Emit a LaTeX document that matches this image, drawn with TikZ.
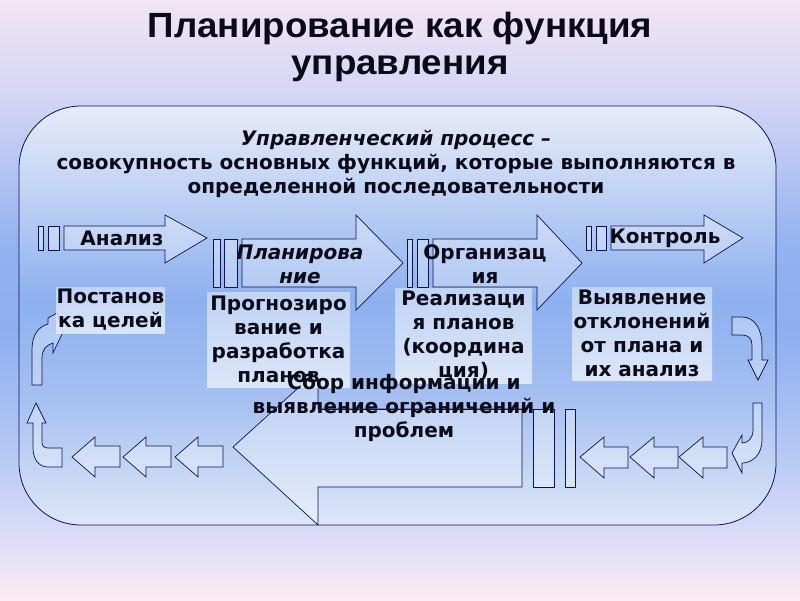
\documentclass[tikz,border=0pt]{standalone}
\usepackage{fontspec}
\setmainfont{DejaVu Sans}
\newfontfamily\headfont[FakeStretch=1.05]{Liberation Sans}
\usetikzlibrary{positioning}

\definecolor{navy}{HTML}{0B1350}
\definecolor{ink}{HTML}{0A0A18}
\definecolor{bgA}{HTML}{F3E5F3}
\definecolor{bgB}{HTML}{D2D5F5}
\definecolor{bgC}{HTML}{93B1F0}
\definecolor{bgD}{HTML}{8FAEF0}
\definecolor{bgE}{HTML}{B4C8F4}
\definecolor{bgF}{HTML}{D9DBF7}
\definecolor{bgG}{HTML}{FCEBF3}
\definecolor{frA}{HTML}{E6EBF8}
\definecolor{frB}{HTML}{BDD0F4}
\definecolor{frC}{HTML}{8DB0EF}
\definecolor{frD}{HTML}{A6C0F1}
\definecolor{frE}{HTML}{DDE7F6}
\definecolor{boxtop}{HTML}{C9DAF6}
\definecolor{boxbot}{HTML}{E6EEFA}

% shadings: 25bp = bottom of the path, 75bp = top
\pgfdeclareverticalshading{bgshade}{100bp}{color(0bp)=(bgG); color(25bp)=(bgG);
  color(30.8bp)=(bgF); color(37.5bp)=(bgE); color(47.5bp)=(bgD); color(54.2bp)=(bgC);
  color(66.7bp)=(bgB); color(75bp)=(bgA); color(100bp)=(bgA)}
\pgfdeclareverticalshading{frameshade}{100bp}{color(0bp)=(frE); color(25bp)=(frE);
  color(39.9bp)=(frD); color(51.8bp)=(frC); color(63.8bp)=(frB); color(75bp)=(frA);
  color(100bp)=(frA)}

\tikzset{
  lbl/.style={font=\bfseries\fontsize{20}{24}\selectfont, text=ink, align=center, inner sep=0pt},
  blk/.style={draw=navy, line width=0.7pt, fill=white, fill opacity=0.3},
  notebox/.style={top color=boxtop, bottom color=boxbot, fill opacity=0.85, text opacity=1,
    inner sep=0pt, lbl}
}

\begin{document}
\begin{tikzpicture}[x=1pt,y=-1pt]
  \useasboundingbox (0,0) rectangle (800,600);
  \shade[shading=bgshade] (0,0) rectangle (800,600);
  \draw[shading=frameshade, draw=navy, line width=0.8pt, rounded corners=62pt] (19,106) rectangle (776,525);

  % title
  \node[font=\headfont\bfseries\fontsize{35}{37}\selectfont, text=ink, align=center] (title) at (400,47)
    {Планирование как функция\\управления};
  \node[lbl] (proc) at (396,164)
    {\textit{Управленческий процесс –}\\совокупность основных функций, которые выполняются в\\определенной последовательности};

  % top row of block arrows
  \draw[blk] (38,226) rectangle (43,250);
  \draw[blk] (48,226) rectangle (59,250);
  \draw[blk] (64,226) -- (165,226) -- (165,215) -- (207,238) -- (165,263) -- (165,250) -- (64,250) -- cycle;
  \draw[blk] (213,239) rectangle (220,287);
  \draw[blk] (224,239) rectangle (237,287);
  \draw[blk] (242,239) -- (356,239) -- (356,215) -- (403,263) -- (356,310) -- (356,287) -- (242,287) -- cycle;
  \draw[blk] (407,239) rectangle (412,287);
  \draw[blk] (417,239) rectangle (428,287);
  \draw[blk] (433,239) -- (537,239) -- (537,215) -- (582,263) -- (537,310) -- (537,287) -- (433,287) -- cycle;
  \draw[blk] (586,226) rectangle (591,250);
  \draw[blk] (596,226) rectangle (606,250);
  \draw[blk] (611,226) -- (704,226) -- (704,215) -- (743,238) -- (704,263) -- (704,250) -- (611,250) -- cycle;

  \node[lbl] (analiz) at (122,238) {Анализ};
  \node[lbl, font=\bfseries\itshape\fontsize{20}{24}\selectfont] (plan) at (300,264) {Планирова\\ние};
  \node[lbl] (org) at (485,264) {Организац\\ия};
  \node[lbl] (kontrol) at (665,238) {Контроль};

  % bottom arrow back to the start
  \draw[blk] (522,409) -- (318,409) -- (318,370) -- (233,447) -- (318,525) -- (318,487) -- (522,487) -- cycle;
  \draw[blk] (533,409) rectangle (554,487);
  \draw[blk] (565,409) rectangle (575,487);
  \foreach \x in {72,123,175}
    \draw[blk] (\x,457) -- (\x+23,437) -- (\x+23,446) -- (\x+48,446) -- (\x+48,467) -- (\x+23,467) -- (\x+23,477) -- cycle;
  \foreach \x in {580,630,679}
    \draw[blk] (\x,457) -- (\x+24,437) -- (\x+24,447) -- (\x+48,447) -- (\x+48,468) -- (\x+24,468) -- (\x+24,478) -- cycle;

  % bent arrows at the sides
  \draw[blk] (62,448) -- (62,467) -- (48,467) .. controls (38,467) and (33,458) .. (33,448) -- (33,423)
    -- (27,423) -- (36,403) -- (46,423) -- (42,423) -- (42,442) .. controls (42,446) and (44,448) .. (48,448) -- cycle;
  \draw[blk] (32,385) -- (32,350) .. controls (32,335) and (38,327) .. (48,324) -- (48,318) -- (57,313)
    -- (63,332) -- (53,353) -- (53,343) .. controls (46,345) and (42,350) .. (42,358) -- (42,385) -- cycle;
  \draw[blk] (732,317) -- (742,317) .. controls (755,317) and (762,330) .. (762,345) -- (762,360) -- (768,360)
    -- (758,380) -- (748,360) -- (752,360) -- (752,345) .. controls (752,338) and (748,335) .. (742,335) -- (732,335) -- cycle;
  \draw[blk] (753,403) -- (762,403) -- (762,440) .. controls (762,455) and (752,463) .. (742,463) -- (742,473)
    -- (732,453) -- (742,435) -- (742,443) .. controls (748,443) and (753,438) .. (753,430) -- cycle;

  % text boxes under the arrows
  \node[notebox, minimum width=109, minimum height=46] (celi) at (110.5,310) {Постанов\\ка целей};
  \node[notebox, minimum width=143, minimum height=95] (prognoz) at (278.5,339.5) {Прогнозиро\\вание и\\разработка\\планов};
  \node[notebox, minimum width=137, minimum height=95] (realiz) at (463.5,335.5) {Реализаци\\я планов\\(координа\\ция)};
  \node[notebox, minimum width=140, minimum height=93] (vyyavl) at (642,333.5) {Выявление\\отклонений\\от плана и\\их анализ};
  \node[lbl] (sbor) at (404,408) {Сбор информации и\\выявление ограничений и\\проблем};
  \draw[navy, line width=0.7pt] (318,409) -- (522,409);
\end{tikzpicture}
\end{document}
